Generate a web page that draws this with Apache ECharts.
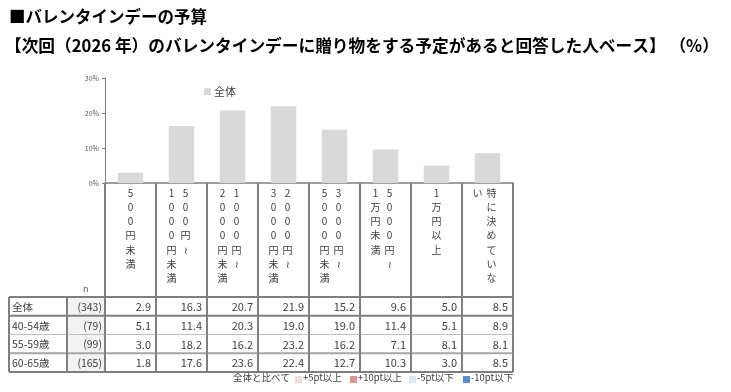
<!DOCTYPE html>
<html><head><meta charset="utf-8">
<script src="https://cdn.jsdelivr.net/npm/echarts@6/dist/echarts.min.js"></script>
<style>html,body{margin:0;padding:0;background:#fff}#c{width:731px;height:392px}</style>
</head><body><div id="c"></div>
<script>
const titleText = '■バレンタインデーの予算';
const subtitleText = '【次回（2026 年）のバレンタインデーに贈り物をする予定があると回答した人ベース】 （%）';
const categories = ['500円未満','500円～1000円未満','1000円～2000円未満','2000円～3000円未満','3000円～5000円未満','5000円～1万円未満','1万円以上','特に決めていない'];
const rowLabels = ['全体','40-54歳','55-59歳','60-65歳'];
const nValues = [343, 79, 99, 165];
const valuesAll   = [2.9, 16.3, 20.7, 21.9, 15.2, 9.6, 5.0, 8.5];
const values4054  = [5.1, 11.4, 20.3, 19.0, 19.0, 11.4, 5.1, 8.9];
const values5559  = [3.0, 18.2, 16.2, 23.2, 16.2, 7.1, 8.1, 8.1];
const values6065  = [1.8, 17.6, 23.6, 22.4, 12.7, 10.3, 3.0, 8.5];
const yMax = 30, yStep = 10;
const compareTitle = '全体と比べて';
const compareLegend = ['+5pt以上', '+10pt以上', '-5pt以下', '-10pt以下'];
const compareColors = ['#f2dcdb', '#da9694', '#dce6f2', '#558ed5'];

const FONT = '"Noto Sans CJK JP", "Noto Sans", sans-serif';
const tableRows = [valuesAll, values4054, values5559, values6065];

function splitVertical(s) {
  const k = s.indexOf('～');
  if (k >= 0) return [s.slice(0, k + 1), s.slice(k + 1)];
  if (s.length > 7) return [s.slice(0, 7), s.slice(7)];
  return [s, ''];
}
function disp(c) { return c === '～' ? '≀' : c; }
function verticalLabel(s) {
  const [r, l] = splitVertical(s);
  const lines = [];
  if (!l) {
    for (const ch of r) lines.push('{s|' + disp(ch) + '}');
  } else {
    const n = Math.max(r.length, l.length);
    for (let i = 0; i < n; i++) {
      lines.push('{l|' + (l[i] ? disp(l[i]) : ' ') + '}{r|' + (r[i] ? disp(r[i]) : ' ') + '}{p| }');
    }
  }
  return lines.join('\n');
}

const cellData = [];
tableRows.forEach((row, j) => row.forEach((v, i) => cellData.push([i, j, v])));

const lineDark = '#7f7f7f';
const rowBottom = [
  { stroke: lineDark, lineWidth: 2 },
  { stroke: '#bfbfbf', lineWidth: 1 },
  { stroke: '#a6a6a6', lineWidth: 2 },
  { stroke: lineDark, lineWidth: 2 }
];

function renderCell(params, api) {
  const i = api.value(0), j = api.value(1), v = api.value(2);
  const p = api.coord([i, j]);
  const sz = api.size([1, 1]);
  const cw = sz[0], ch = sz[1];
  const x0 = p[0] - cw / 2, y0 = p[1] - ch / 2;
  const diff = v - valuesAll[i];
  let fill = '#ffffff';
  if (j > 0) {
    if (diff >= 10) fill = compareColors[1];
    else if (diff >= 5) fill = compareColors[0];
    else if (diff <= -10) fill = compareColors[3];
    else if (diff <= -5) fill = compareColors[2];
  }
  const children = [
    { type: 'rect', shape: { x: x0, y: y0, width: cw, height: ch }, style: { fill: fill } },
    { type: 'text', z2: 5, style: { text: v.toFixed(1), x: x0 + cw - 5, y: p[1] + 0.5, align: 'right', verticalAlign: 'middle', fontSize: 11, fontFamily: FONT, fill: '#404040' } }
  ];
  const leftExt = (i === 0) ? 96 : 0;
  if (i === 0) {
    children.push({ type: 'rect', shape: { x: x0 - 38, y: y0, width: 38, height: ch }, style: { fill: '#f2f2f2' } });
    children.push({ type: 'text', z2: 5, style: { text: rowLabels[j], x: x0 - 93, y: p[1] + 0.5, align: 'left', verticalAlign: 'middle', fontSize: 10.5, fontFamily: FONT, fill: '#404040' } });
    children.push({ type: 'text', z2: 5, style: { text: '(' + nValues[j] + ')', x: x0 - 3, y: p[1] + 0.5, align: 'right', verticalAlign: 'middle', fontSize: 10.5, fontFamily: FONT, fill: '#404040' } });
    [0, 38, 96].forEach(dx => children.push({ type: 'line', z2: 10, shape: { x1: x0 - dx, y1: y0, x2: x0 - dx, y2: y0 + ch }, style: { stroke: lineDark, lineWidth: 2 } }));
  }
  children.push({ type: 'line', z2: 10, shape: { x1: x0 + cw, y1: y0, x2: x0 + cw, y2: y0 + ch }, style: { stroke: lineDark, lineWidth: 2 } });
  children.push({ type: 'line', z2: 9, shape: { x1: x0 - leftExt, y1: y0 + ch, x2: x0 + cw, y2: y0 + ch }, style: rowBottom[j] });
  if (j === 0) {
    children.push({ type: 'line', z2: 9, shape: { x1: x0 - leftExt, y1: y0, x2: x0 + cw, y2: y0 }, style: { stroke: lineDark, lineWidth: 2 } });
  }
  return { type: 'group', children: children };
}

const chart = echarts.init(document.getElementById('c'), null, { renderer: 'canvas' });

const graphics = [
  { type: 'text', left: 83, top: 284, style: { text: 'n', fontSize: 9, fontFamily: FONT, fill: '#595959' } },
  { type: 'text', left: 233, top: 373, style: { text: compareTitle, fontSize: 9.5, fontFamily: FONT, fill: '#404040' } }
];
const legX = [295, 350, 409, 463];
compareLegend.forEach((t, k) => {
  graphics.push({ type: 'rect', left: legX[k], top: 376, shape: { width: 7, height: 7 }, style: { fill: compareColors[k] } });
  graphics.push({ type: 'text', left: legX[k] + 8, top: 373, style: { text: t, fontSize: 9.5, fontFamily: FONT, fill: '#404040' } });
});

chart.setOption({
  animation: false,
  backgroundColor: '#ffffff',
  textStyle: { fontFamily: FONT },
  title: [
    { text: titleText, left: 9, top: 8, padding: 0, textStyle: { fontSize: 16.5, fontWeight: 'bold', color: '#000', fontFamily: FONT } },
    { text: subtitleText, left: 5, top: 37, padding: 0, textStyle: { fontSize: 16.7, fontWeight: 'bold', color: '#000', fontFamily: FONT } }
  ],
  legend: {
    data: ['全体'], left: 199, top: 81, itemWidth: 7, itemHeight: 7, icon: 'rect',
    textStyle: { fontSize: 11, color: '#404040', fontFamily: FONT, padding: [0, 0, 0, -2] }
  },
  grid: [
    { left: 105, top: 78, width: 408, height: 105 },
    { left: 105, top: 297, width: 408, height: 75 }
  ],
  xAxis: [
    {
      type: 'category', gridIndex: 0, data: categories,
      axisLine: { lineStyle: { color: lineDark, width: 1.5 } },
      axisTick: { show: true, interval: 0, length: 114, lineStyle: { color: lineDark, width: 2 } },
      axisLabel: {
        interval: 0, margin: 3, formatter: verticalLabel, color: '#404040',
        rich: {
          s: { width: 14, align: 'center', fontSize: 10, lineHeight: 14.2, fontFamily: FONT, color: '#404040' },
          l: { width: 14, align: 'center', fontSize: 10, lineHeight: 14.2, fontFamily: FONT, color: '#404040' },
          r: { width: 14, align: 'center', fontSize: 10, lineHeight: 14.2, fontFamily: FONT, color: '#404040' },
          p: { width: 6, fontSize: 10, lineHeight: 14.2 }
        }
      }
    },
    { type: 'category', gridIndex: 1, data: categories, show: false }
  ],
  yAxis: [
    {
      type: 'value', gridIndex: 0, min: 0, max: yMax, interval: yStep,
      axisLine: { show: true, lineStyle: { color: lineDark, width: 1 } },
      axisTick: { show: true, length: 3, lineStyle: { color: lineDark } },
      splitLine: { show: false },
      axisLabel: { formatter: '{value}%', fontSize: 7, color: '#595959', margin: 6, fontFamily: FONT }
    },
    { type: 'category', gridIndex: 1, data: rowLabels, inverse: true, show: false }
  ],
  series: [
    {
      name: '全体', type: 'bar', xAxisIndex: 0, yAxisIndex: 0, data: valuesAll,
      barWidth: '50%', itemStyle: { color: '#d9d9d9' }
    },
    {
      name: 'table', type: 'custom', xAxisIndex: 1, yAxisIndex: 1, data: cellData,
      renderItem: renderCell, silent: true
    }
  ],
  graphic: graphics
});
</script>
</body></html>
